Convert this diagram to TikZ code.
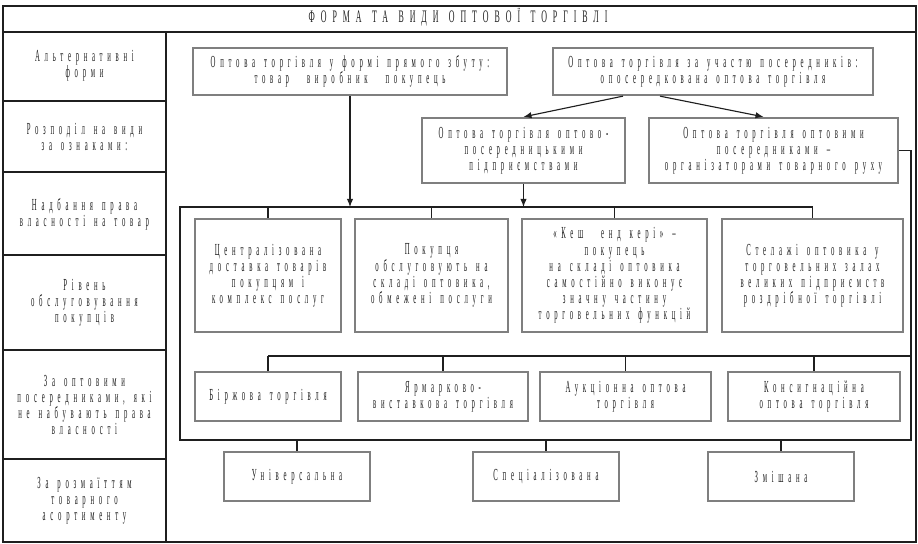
\documentclass[tikz,border=0pt]{standalone}
\usepackage{fontspec}
\usepackage{tikz}
\usetikzlibrary{arrows.meta,positioning,calc}
\newfontfamily\narrowfont{Liberation Serif}[FakeStretch=0.4,LetterSpace=28,WordSpace=1.4]
\newfontfamily\headfont{Liberation Serif}[FakeStretch=0.45,LetterSpace=34,WordSpace=1.3]
\definecolor{Ink}{HTML}{1F1F1F}
\definecolor{Rim}{HTML}{7F7F7F}
\newcommand{\boxfont}{\narrowfont\fontsize{12}{11.5}\selectfont}
\tikzset{
  item/.style={draw=Rim, line width=1.6pt, fill=white, align=center, inner sep=1pt, text=Ink, font=\boxfont},
  side/.style={align=center, text=Ink, font=\boxfont},
  link/.style={Ink, line width=0.8pt},
  arr/.style={link, -{Latex[length=2mm,width=1.6mm]}}
}

\begin{document}
\begin{tikzpicture}[x=0.025cm, y=-0.025cm]
        \useasboundingbox (0,0) rectangle (918,544);
        % table frame
        \draw[link] (3,6) rectangle (916,542);
        \draw[link] (3,32) -- (916,32);
        \draw[link] (166,32) -- (166,542);
        \foreach \y in {101,172,255,350,459} \draw[link] (3,\y) -- (166,\y);
        \node[side, font=\headfont\fontsize{12.5}{13}\selectfont] (title) at (458,17) {ФОРМА ТА ВИДИ ОПТОВОЇ ТОРГІВЛІ};
        % left column
        \node[side] (altforms) at (84.5,66) {Альтернативні\\форми};
        \node[side] (split) at (84.5,137) {Розподіл на види\\за ознаками:};
        \node[side] (owner) at (84.5,214) {Надбання права\\власності на товар};
        \node[side] (service) at (84.5,303) {Рівень\\обслуговування\\покупців};
        \node[side] (agents) at (84.5,405) {За оптовими\\посередниками, які\\не набувають права\\власності};
        \node[side] (range) at (84.5,501) {За розмаїттям\\товарного\\асортименту};
        % alternative forms
        \node[item, minimum width=7.85cm, minimum height=1.175cm] (direct) at (350,71.5) {Оптова торгівля у формі прямого збуту:\\товар~ виробник~ покупець};
        \node[item, minimum width=8cm, minimum height=1.175cm] (indirect) at (713,71.5) {Оптова торгівля за участю посередників:\\опосередкована оптова торгівля};
        \node[item, minimum width=5.075cm, minimum height=1.625cm] (firms) at (523.5,150.5) {Оптова торгівля оптово-\\посередницькими\\підприємствами};
        \node[item, minimum width=6.225cm, minimum height=1.625cm] (organizers) at (773.5,150.5) {Оптова торгівля оптовими\\посередниками –\\організаторами товарного руху};
        % service level
        \node[item, minimum width=3.65cm, minimum height=2.825cm] (central) at (268,275.5) {Централізована\\доставка товарів\\покупцям і\\комплекс послуг};
        \node[item, minimum width=3.825cm, minimum height=2.825cm] (limited) at (431.5,275.5) {Покупця\\обслуговують на\\складі оптовика,\\обмежені послуги};
        \node[item, minimum width=4.625cm, minimum height=2.825cm] (cashcarry) at (614.5,275.5) {«Кеш~ енд кері» –\\покупець\\на складі оптовика\\самостійно виконує\\значну частину\\торговельних функцій};
        \node[item, minimum width=4.525cm, minimum height=2.825cm] (racks) at (812.5,275.5) {Стелажі оптовика у\\торговельних залах\\великих підприємств\\роздрібної торгівлі};
        % agents
        \node[item, minimum width=3.65cm, minimum height=1.225cm] (exchange) at (268,396.5) {Біржова торгівля};
        \node[item, minimum width=4.25cm, minimum height=1.225cm] (fair) at (443,396.5) {Ярмарково-\\виставкова торгівля};
        \node[item, minimum width=4.275cm, minimum height=1.225cm] (auction) at (625.5,396.5) {Аукціонна оптова\\торгівля};
        \node[item, minimum width=4.3cm, minimum height=1.225cm] (consign) at (814,396.5) {Консигнаційна\\оптова торгівля};
        % assortment
        \node[item, minimum width=3.65cm, minimum height=1.225cm] (universal) at (297,476.5) {Універсальна};
        \node[item, minimum width=3.65cm, minimum height=1.225cm] (special) at (546,476.5) {Спеціалізована};
        \node[item, minimum width=3.65cm, minimum height=1.225cm] (mixed) at (781,476.5) {Змішана};
        % connectors
        \coordinate (frametop) at (180,207);
        \coordinate (framebot) at (911,440);
        \coordinate (bus) at (911,356);
        \draw[arr] (direct.south) -- (direct.south |- frametop);
        \draw[arr] (firms.south) -- (firms.south |- frametop);
        \draw[arr] ($(indirect.south)+(-90,0)$) -- (firms.north);
        \draw[arr] ($(indirect.south)+(-53,0)$) -- ($(organizers.north)+(-10,0)$);
        \draw[link] (organizers.east) -| (framebot) -| (frametop) -- (racks.north |- frametop);
        \foreach \n in {central,limited,cashcarry,racks}
          \draw[link] (\n.north) -- (\n.north |- frametop);
        \draw[link] (exchange.north |- bus) -- (bus);
        \foreach \n in {exchange,fair,auction,consign}
          \draw[link] (\n.north) -- (\n.north |- bus);
        \foreach \n in {universal,special,mixed}
          \draw[link] (\n.north) -- (\n.north |- framebot);
      \end{tikzpicture}
\end{document}
